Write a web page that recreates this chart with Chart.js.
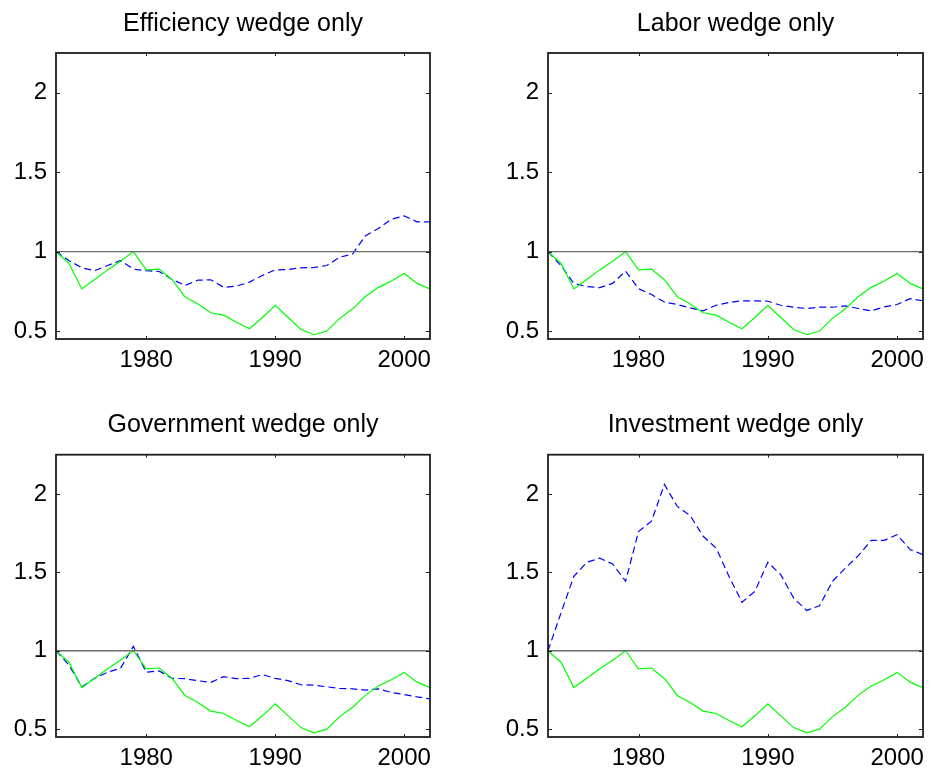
<!DOCTYPE html>
<html>
<head>
<meta charset="utf-8">
<script src="https://cdn.jsdelivr.net/npm/chart.js@4.4.1/dist/chart.umd.min.js"></script>
<style>
  html, body { margin: 0; padding: 0; background: #fff; }
  body { width: 932px; height: 775px; position: relative; overflow: hidden; }
  canvas { position: absolute; }
</style>
</head>
<body>
<canvas id="effChart" width="466" height="387" style="left:0;top:0"></canvas>
<canvas id="laborChart" width="466" height="387" style="left:466px;top:0"></canvas>
<canvas id="govChart" width="466" height="388" style="left:0;top:387px"></canvas>
<canvas id="invChart" width="466" height="388" style="left:466px;top:387px"></canvas>
<script>
const years = [1973, 1974, 1975, 1976, 1977, 1978, 1979, 1980, 1981, 1982,
  1983, 1984, 1985, 1986, 1987, 1988, 1989, 1990, 1991, 1992,
  1993, 1994, 1995, 1996, 1997, 1998, 1999, 2000, 2001, 2002];

const xTicks = [1980, 1990, 2000];
const yTicks = [0.5, 1, 1.5, 2];
const refLevel = 1;

// data output (green, same in every panel)
const dataOutput = [1.0, 0.927, 0.765, 0.825, 0.885, 0.94, 1.0, 0.885, 0.89, 0.823,
  0.715, 0.67, 0.615, 0.6, 0.555, 0.515, 0.585, 0.662, 0.585, 0.51,
  0.477, 0.5, 0.58, 0.64, 0.717, 0.775, 0.815, 0.862, 0.8, 0.765];

// model output with one wedge (blue dashed)
const efficiencyOnly = [1.0, 0.944, 0.898, 0.88, 0.9125, 0.944, 0.89, 0.88, 0.875, 0.825,
  0.7875, 0.82, 0.823, 0.775, 0.783, 0.808, 0.85, 0.885, 0.8875, 0.898,
  0.9, 0.9125, 0.965, 0.985, 1.1, 1.146, 1.204, 1.225, 1.1875, 1.1875];
const laborOnly = [1.0, 0.9125, 0.8, 0.78, 0.773, 0.8, 0.877, 0.767, 0.73, 0.683,
  0.667, 0.646, 0.627, 0.6625, 0.68, 0.69, 0.69, 0.6875, 0.6625, 0.65,
  0.642, 0.65, 0.65, 0.658, 0.642, 0.627, 0.652, 0.667, 0.704, 0.69];
const governmentOnly = [1.0, 0.91, 0.77, 0.825, 0.863, 0.888, 1.028, 0.863, 0.871, 0.824,
  0.822, 0.809, 0.798, 0.835, 0.822, 0.824, 0.848, 0.824, 0.809, 0.783,
  0.781, 0.77, 0.76, 0.757, 0.749, 0.757, 0.734, 0.721, 0.706, 0.693];
const investmentOnly = [1.0, 1.24, 1.474, 1.564, 1.59, 1.553, 1.443, 1.76, 1.826, 2.06,
  1.92, 1.862, 1.73, 1.655, 1.474, 1.309, 1.379, 1.564, 1.485, 1.336,
  1.257, 1.287, 1.443, 1.528, 1.606, 1.704, 1.704, 1.74, 1.645, 1.613];

const FONT = "'Liberation Sans', Arial, Helvetica, sans-serif";
Chart.defaults.font.family = FONT;
Chart.defaults.color = "#000";

const toPoints = (vals) => vals.map((v, i) => ({ x: years[i], y: v }));

// box + inward tick marks, like the original figure
const framePlugin = {
  id: "frame",
  afterDraw(chart) {
    const { ctx, chartArea: a, scales } = chart;
    ctx.save();
    ctx.strokeStyle = "#1e1e1e";
    ctx.lineWidth = 1;
    ctx.beginPath();
    xTicks.forEach((t) => {
      const px = Math.round(scales.x.getPixelForValue(t)) + 0.5;
      ctx.moveTo(px, a.bottom); ctx.lineTo(px, a.bottom - 3);
      ctx.moveTo(px, a.top); ctx.lineTo(px, a.top + 3);
    });
    yTicks.forEach((t) => {
      const py = Math.round(scales.y.getPixelForValue(t)) + 0.5;
      ctx.moveTo(a.left, py); ctx.lineTo(a.left + 4, py);
      ctx.moveTo(a.right, py); ctx.lineTo(a.right - 4, py);
    });
    ctx.stroke();
    ctx.lineWidth = 1.8;
    ctx.strokeRect(a.left, a.top, a.right - a.left, a.bottom - a.top);
    ctx.restore();
  },
};

function makePanel(id, title, series, box) {
  new Chart(document.getElementById(id), {
    type: "line",
    data: {
      datasets: [
        {
          data: [{ x: years[0], y: refLevel }, { x: years[years.length - 1], y: refLevel }],
          borderColor: "#6a6a6a",
          borderWidth: 1.4,
          pointRadius: 0,
        },
        {
          data: toPoints(dataOutput),
          borderColor: "#00ff00",
          borderWidth: 1.2,
          pointRadius: 0,
          tension: 0,
        },
        {
          data: toPoints(series),
          borderColor: "#0000ff",
          borderWidth: 1.2,
          borderDash: [7, 4],
          pointRadius: 0,
          tension: 0,
        },
      ],
    },
    options: {
      responsive: false,
      animation: false,
      events: [],
      layout: { padding: { left: 0, right: box.padRight, top: 0, bottom: 0 } },
      plugins: {
        legend: { display: false },
        tooltip: { enabled: false },
        title: {
          display: true,
          text: title,
          fullSize: false,
          color: "#000",
          font: { size: 25, weight: "normal", lineHeight: 1 },
          padding: { top: box.titleTop, bottom: box.titleBottom },
        },
      },
      scales: {
        x: {
          type: "linear",
          min: years[0],
          max: years[years.length - 1],
          grid: { display: false, drawTicks: false },
          border: { display: false },
          afterBuildTicks: (s) => { s.ticks = xTicks.map((v) => ({ value: v })); },
          afterFit: (s) => { s.height = box.xHeight; s.paddingLeft = 0; s.paddingRight = 0; },
          ticks: { padding: 7, font: { size: 24 }, callback: (v) => String(v), maxRotation: 0 },
        },
        y: {
          min: 0.45,
          max: 2.25,
          grid: { display: false, drawTicks: false },
          border: { display: false },
          afterBuildTicks: (s) => { s.ticks = yTicks.map((v) => ({ value: v })); },
          afterFit: (s) => { s.width = box.yWidth; s.paddingTop = 0; s.paddingBottom = 0; },
          ticks: { padding: 9, font: { size: 24 }, callback: (v) => String(v) },
        },
      },
    },
    plugins: [framePlugin],
  });
}

const topLeft = { yWidth: 56, padRight: 36, titleTop: 11.5, titleBottom: 16.5, xHeight: 48 };
const topRight = { yWidth: 82, padRight: 9, titleTop: 11.5, titleBottom: 16.5, xHeight: 48 };
const botLeft = { yWidth: 56, padRight: 36, titleTop: 26, titleBottom: 16.7, xHeight: 38 };
const botRight = { yWidth: 82, padRight: 9, titleTop: 26, titleBottom: 16.7, xHeight: 38 };

makePanel("effChart", "Efficiency wedge only", efficiencyOnly, topLeft);
makePanel("laborChart", "Labor wedge only", laborOnly, topRight);
makePanel("govChart", "Government wedge only", governmentOnly, botLeft);
makePanel("invChart", "Investment wedge only", investmentOnly, botRight);
</script>
</body>
</html>
